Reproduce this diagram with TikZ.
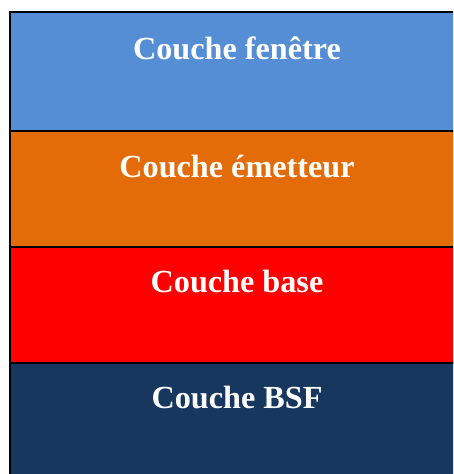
\documentclass[tikz,border=0pt]{standalone}
\usepackage{fontspec}
\setmainfont{Liberation Serif}
\usepackage{tikz}

\definecolor{fenetre}{HTML}{558ED5}
\definecolor{emetteur}{HTML}{E36C09}
\definecolor{base}{HTML}{FF0000}
\definecolor{bsf}{HTML}{17375E}

\tikzset{
  layer/.style={draw=black, line width=2pt},
  label/.style={anchor=base, text=white, font=\fontsize{32.2}{38}\selectfont\bfseries, inner sep=0pt}
}

\begin{document}
\begin{tikzpicture}[x=1pt, y=-1pt]
                    \useasboundingbox (0,0) rectangle (453,474);
                    \clip (0,0) rectangle (453,474);
                    % Layers
                    \draw[layer, fill=bsf] (10,363) rectangle (466,490);
                    \draw[layer, fill=base] (10,247) rectangle (466,363);
                    \draw[layer, fill=emetteur] (10,131) rectangle (466,247);
                    \draw[layer, fill=fenetre] (10,12) rectangle (466,131);
                    % Labels
                    \node[label] (fenetre) at (237,59) {Couche fenêtre};
                    \node[label] (emetteur) at (237,177) {Couche émetteur};
                    \node[label] (base) at (237,292) {Couche base};
                    \node[label] (bsf) at (237,408) {Couche BSF};
\end{tikzpicture}
\end{document}
